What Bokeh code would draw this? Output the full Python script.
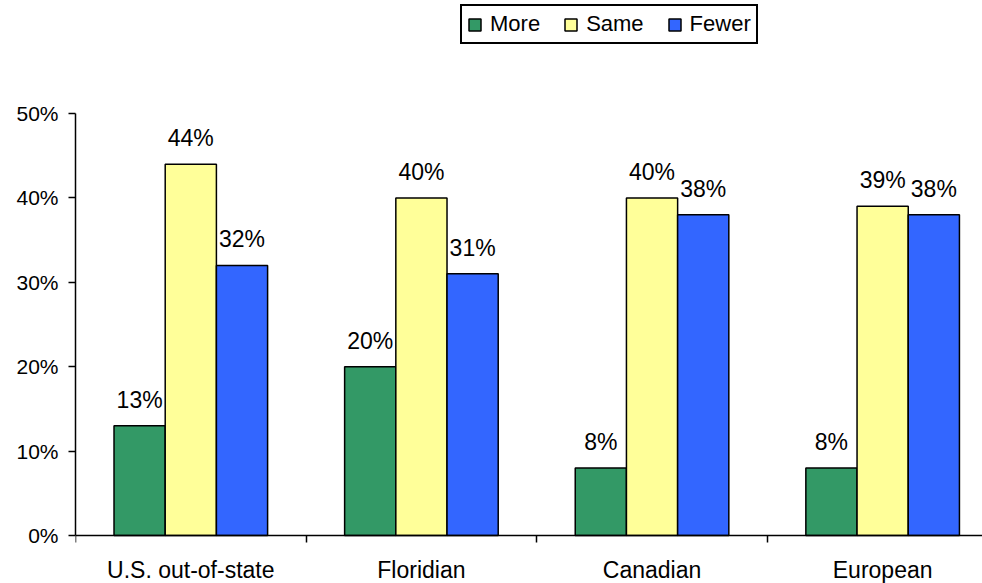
from bokeh.plotting import figure
from bokeh.models import (Range1d, FixedTicker, PrintfTickFormatter, Legend, LegendItem,
                          ColumnDataSource)
from bokeh.core.properties import value
from bokeh.embed import file_html
from bokeh.resources import INLINE

categories = ["U.S. out-of-state", "Floridian", "Canadian", "European"]
series_names = ["More", "Same", "Fewer"]
more = [13, 20, 8, 8]
same = [44, 40, 40, 39]
fewer = [32, 31, 38, 38]
y_ticks = [0, 10, 20, 30, 40, 50]
colors = ["#339966", "#FFFF99", "#3366FF"]

FONT = "Liberation Sans"
BAR_W = 0.222
H = 583
PX_PER_UNIT = (535 - 113) / 50.0   # pixels per percentage point
Y_MAX = 50 + 113 / PX_PER_UNIT
Y_MIN = -(H - 535) / PX_PER_UNIT

p = figure(width=982, height=H, output_backend="svg", toolbar_location=None,
           x_range=Range1d(0, 3.933), y_range=Range1d(Y_MIN, Y_MAX),
           min_border_left=75, min_border_top=0, min_border_bottom=0, min_border_right=0)
p.outline_line_color = None
p.xgrid.grid_line_color = None
p.ygrid.grid_line_color = None
p.background_fill_color = "white"
p.border_fill_color = "white"

renderers = []
for k, (name, vals, col) in enumerate(zip(series_names, [more, same, fewer], colors)):
    xs = [i + 0.5 + (k - 1) * BAR_W for i in range(len(categories))]
    src = ColumnDataSource(dict(x=xs, top=vals, lab=[f"{v}%" for v in vals]))
    r = p.vbar(x="x", top="top", width=BAR_W, bottom=0, source=src,
               fill_color=col, line_color="black", line_width=1.5)
    renderers.append((name, r))
    p.text(x="x", y="top", text="lab", source=src, text_align="center",
           text_baseline="alphabetic", y_offset=-26, text_font=value(FONT),
           text_font_size="23px", text_color="black")

# y axis
ya = p.yaxis[0]
ya.ticker = FixedTicker(ticks=y_ticks)
ya.bounds = (0, 50)
ya.formatter = PrintfTickFormatter(format="%d%%")
ya.major_label_text_font = FONT
ya.major_label_text_font_size = "21px"
ya.major_label_text_color = "black"
ya.major_tick_out = 7
ya.major_tick_in = 0
ya.minor_tick_line_color = None
ya.major_label_standoff = 10
ya.axis_line_color = "black"
ya.axis_line_width = 1.5
ya.major_tick_line_color = "black"
ya.major_tick_line_width = 1.5

# x axis at y = 0
xa = p.xaxis[0]
xa.fixed_location = 0
xa.ticker = FixedTicker(ticks=[i + 0.5 for i in range(len(categories))],
                        minor_ticks=list(range(len(categories))))
xa.major_label_overrides = {i + 0.5: c for i, c in enumerate(categories)}
xa.major_label_text_font = FONT
xa.major_label_text_font_size = "23px"
xa.major_label_text_color = "black"
xa.major_tick_out = 0
xa.major_tick_in = 0
xa.major_tick_line_color = None
xa.minor_tick_out = 7
xa.minor_tick_in = 0
xa.minor_tick_line_color = "black"
xa.minor_tick_line_width = 1.5
xa.major_label_standoff = 14
xa.axis_line_color = "black"
xa.axis_line_width = 1.5

legend = Legend(items=[LegendItem(label=n, renderers=[r]) for n, r in renderers],
                location=(385, H - 44), orientation="horizontal",
                label_text_font=FONT, label_text_font_size="22px",
                label_text_color="black",
                glyph_width=15, glyph_height=15, label_standoff=8, spacing=23,
                padding=5, margin=0, border_line_color="black", border_line_width=2,
                border_line_alpha=1.0,
                background_fill_color="white", background_fill_alpha=1.0)
p.add_layout(legend, "center")

open("out.html", "w").write(file_html(p, INLINE))
